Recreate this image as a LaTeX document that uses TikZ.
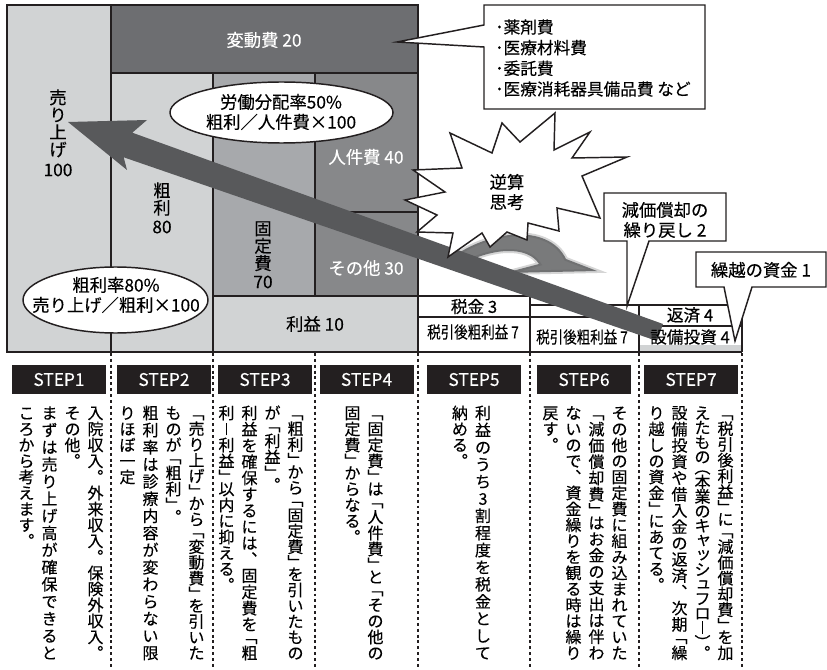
\documentclass[tikz,border=0pt]{standalone}
\usepackage{fontspec}
\setmainfont{Noto Sans CJK JP}[FakeBold=0.25]
\usepackage{graphicx}
\usetikzlibrary{shapes.geometric}

\definecolor{ink}{HTML}{231F20}
\definecolor{lite}{HTML}{D1D3D4}
\definecolor{midg}{HTML}{A7A9AC}
\definecolor{darkg}{HTML}{87888A}
\definecolor{hendo}{HTML}{6D6E71}
\definecolor{arrowg}{HTML}{58595B}

\newdimen\vcolw \vcolw=17.25pt
\makeatletter
\def\vt@LB{「}\def\vt@RB{」}\def\vt@LP{（}\def\vt@RP{）}
\def\vt@MARU{。}\def\vt@TEN{、}\def\vt@CHO{ー}
\def\vt@SA{ャ}\def\vt@STU{ッ}\def\vt@SYU{ュ}
\newif\ifvt@first
\def\vt@strut{\vrule height .88em depth .12em width 0pt}
\def\vt@box#1{\hbox to 1em{\vt@strut\hss#1\hss}}
\def\vt@small#1{\vt@box{\kern.12em\raisebox{.1em}{#1}}}
\def\vt@one#1{%
  \def\vt@x{#1}%
  \ifx\vt@x\vt@LB \ifvt@first\else\kern-.25em\fi\vt@box{﹁}%
  \else\ifx\vt@x\vt@LP \ifvt@first\else\kern-.25em\fi\vt@box{︵}%
  \else\ifx\vt@x\vt@RB \vt@box{﹂}\kern-.25em
  \else\ifx\vt@x\vt@RP \vt@box{︶}\kern-.25em
  \else\ifx\vt@x\vt@MARU \vt@box{︒}%
  \else\ifx\vt@x\vt@TEN \vt@box{︑}%
  \else\ifx\vt@x\vt@CHO \vt@box{\vrule width .07em height .78em depth .02em}%
  \else\ifx\vt@x\vt@SA \vt@small{#1}%
  \else\ifx\vt@x\vt@STU \vt@small{#1}%
  \else\ifx\vt@x\vt@SYU \vt@small{#1}%
  \else \vt@box{#1}%
  \fi\fi\fi\fi\fi\fi\fi\fi\fi\fi
  \vt@firstfalse}
\def\vt@list#1{\vt@firsttrue\@tfor\vt@c:=#1\do{\expandafter\vt@one\expandafter{\vt@c}}}
\newcommand\vcolN[1]{\hbox to\vcolw{\hss\vtop{\baselineskip=1em\lineskip=0pt\lineskiplimit=-\maxdimen\vt@list{#1}}\hss}}
\newcommand\vcolJ[1]{\hbox to\vcolw{\hss\vtop to 15.88em{\baselineskip=1em plus 1fil minus .2em\lineskip=0pt\lineskiplimit=-\maxdimen\vt@list{#1}}\hss}}
\makeatother

\begin{document}
\begin{tikzpicture}[x=0.75pt,y=-0.75pt,
  frame/.style={draw=ink,line width=1.5pt},
  inner/.style={draw=ink,line width=1.1pt},
  dotln/.style={draw=ink,line width=1.6pt,dash pattern=on 2.2pt off 2.2pt},
  lbl/.style={inner sep=0pt,font=\fontsize{13}{15}\selectfont,align=center},
  wlbl/.style={lbl,text=white},
  tlbl/.style={inner sep=0pt,font=\fontsize{12.5}{14}\selectfont},
  stepbox/.style={fill=ink,text=white,minimum width=70.5pt,minimum height=21.75pt,inner sep=0pt,font=\fontsize{13}{15}\selectfont},
  vtxt/.style={inner sep=0pt,anchor=base,font=\fontsize{12}{12}\selectfont},
  vlbl/.style={inner sep=0pt,anchor=base,font=\fontsize{13}{13}\selectfont},
  oval/.style={ellipse,draw=ink,fill=white,line width=1.1pt,inner sep=0pt},
  bubble/.style={draw=ink,fill=white,line width=1.1pt,line join=miter},
  shadowarrow/.style={fill=arrowg,fill opacity=0.8,draw=arrowg,draw opacity=0.25,line width=3pt},
]
\fill[white] (0,0) rectangle (827,670);
\useasboundingbox (0,0) rectangle (827,670);

% block fills
\fill[lite] (7,5) rectangle (111,352);
\fill[hendo] (111,5) rectangle (418,73);
\fill[lite] (111,73) rectangle (213,352);
\fill[midg] (213,73) rectangle (315,296);
\fill[darkg] (315,73) rectangle (418,296);
\fill[lite] (213,296) rectangle (418,352);
\fill[lite] (639,345) rectangle (742,352);

% block lines
\draw[inner] (111,5) -- (111,352);
\draw[inner] (111,73) -- (418,73);
\draw[inner] (213,73) -- (213,352);
\draw[inner] (315,73) -- (315,296);
\draw[inner] (213,296) -- (418,296);
\draw[inner] (315,212) -- (418,212);
\draw[frame] (7,5) rectangle (418,352);

% tables
\draw[inner] (418,296) -- (530,296) -- (530,352);
\draw[inner] (418,317) -- (639,317);
\draw[inner] (530,305) -- (742,305) -- (742,352);
\draw[inner] (639,305) -- (639,352);
\draw[inner] (639,326) -- (742,326);
\draw[frame] (418,352) -- (742,352);

% dotted separators
\foreach \xx in {111,213,315,418,530,639,742}
  \draw[dotln] (\xx,353) -- (\xx,670);

% shadow curved arrow
\path[shadowarrow] (446,262) .. controls (485,230) and (548,222) .. (566,259) -- (597,271) -- (505,273) -- (539,264) .. controls (528,246) and (492,246) .. (455,268) -- cycle;

% big arrow
\fill[arrowg] (68,122) -- (147,120) -- (132.3,132.7) -- (663,324) -- (657,341) -- (123.7,157.3) -- (127,170) -- cycle;

% ellipses
\node[oval,minimum width=167.25pt,minimum height=45.75pt] (rodo) at (281.5,112.5) {};
\node[oval,minimum width=138.75pt,minimum height=49.5pt] (arari) at (115.5,300) {};
\node[lbl] (rodotxt) at (281,112) {労働分配率50\%\\粗利／人件費×100};
\node[lbl] (araritxt) at (116,295) {粗利率80\%\\売り上げ／粗利×100};

% starburst
\draw[bubble] (555,113) -- (554,150) -- (590,132) -- (572,158) -- (627,157) -- (582,176)
  -- (600,218) -- (557,208) -- (559,231) -- (528,223) -- (527,240) -- (507,232)
  -- (490,247) -- (482,233) -- (448,257) -- (453,233) -- (417,232) -- (437,215)
  -- (405,200) -- (445,192) -- (413,170) -- (462,168) -- (450,133) -- (492,153)
  -- (502,123) -- (520,142) -- cycle;
\node[lbl] (gyaku) at (507,192) {逆算\\思考};

% callouts
\draw[bubble] (484,5) -- (705,5) -- (705,109) -- (484,109) -- (484,47) -- (397,42) -- (484,25) -- cycle;
\node[inner sep=0pt,anchor=west,align=left,font=\fontsize{12.5}{15.5}\selectfont] (list) at (495,58)
  {･薬剤費\\･医療材料費\\･委託費\\･医療消耗器具備品費 など};
\draw[bubble] (604,193) -- (726,193) -- (726,241) -- (649,241) -- (627,306) -- (627,241) -- (604,241) -- cycle;
\node[lbl] (genka) at (665,220) {減価償却の\\繰り戻し 2};
\draw[bubble] (696,252) -- (826,252) -- (826,287) -- (752,287) -- (735,341) -- (724,287) -- (696,287) -- cycle;
\node[lbl] (kurikoshi) at (761,270) {繰越の資金 1};

% block labels
\node[wlbl] (hendotxt) at (264,40) {変動費 20};
\node[wlbl] (jinken) at (366,157) {人件費 40};
\node[wlbl] (sonota) at (366,268) {その他 30};
\node[lbl] (rieki) at (315,324) {利益 10};
\node[vlbl] (uri) at (58,104) {\vcolN{売り上げ}};
\node[lbl] (uri100) at (58,170) {100};
\node[vlbl] (ara) at (162,197) {\vcolN{粗利}};
\node[lbl] (ara80) at (162,227) {80};
\node[vlbl] (kotei) at (263,235) {\vcolN{固定費}};
\node[lbl] (kotei70) at (263,282) {70};

% table labels
\node[tlbl] (zei) at (474,306.5) {税金 3};
\node[tlbl] (zeigo5) at (473,332) {\scalebox{0.81}[1]{税引後粗利益 7}};
\node[tlbl] (zeigo6) at (582,337) {\scalebox{0.81}[1]{税引後粗利益 7}};
\node[tlbl] (hensai) at (690,315) {返済 4};
\node[tlbl] (setsubi) at (690,337) {設備投資 4};

% step headers
\node[stepbox] (h1) at (59,379.5) {STEP1};
\node[stepbox] (h2) at (164,379.5) {STEP2};
\node[stepbox] (h3) at (265,379.5) {STEP3};
\node[stepbox] (h4) at (366.5,379.5) {STEP4};
\node[stepbox] (h5) at (474,379.5) {STEP5};
\node[stepbox] (h6) at (584,379.5) {STEP6};
\node[stepbox] (h7) at (691,379.5) {STEP7};

% vertical texts
\node[vtxt] (t1) at (61,419) {\hbox{\vcolN{ころから考えます。}\vcolJ{まずは売り上げ高が確保できると}\vcolN{その他。}\vcolJ{入院収入。外来収入。保険外収入。}}};
\node[vtxt] (t2) at (162,419) {\hbox{\vcolN{りほぼ一定}\vcolJ{粗利率は診療内容が変わらない限}\vcolN{ものが「粗利」。}\vcolJ{「売り上げ」から「変動費」を引いた}}};
\node[vtxt] (t3) at (261,419) {\hbox{\vcolN{利ー利益」以内に抑える。}\vcolJ{利益を確保するには、固定費を「粗}\vcolN{が「利益」。}\vcolJ{「粗利」から「固定費」を引いたもの}}};
\node[vtxt] (t4) at (364,419) {\hbox{\vcolN{固定費」からなる。}\vcolJ{「固定費」は「人件費」と「その他の}}};
\node[vtxt] (t5) at (471.5,419) {\hbox{\vcolN{納める。}\vcolJ{利益のうち3割程度を税金として}}};
\node[vtxt] (t6) at (585,419) {\hbox{\vcolN{戻す。}\vcolJ{ないので、資金繰りを観る時は繰り}\vcolJ{「減価償却費」はお金の支出は伴わ}\vcolJ{その他の固定費に組み込まれていた}}};
\node[vtxt] (t7) at (691,419) {\hbox{\vcolN{り越しの資金」にあてる。}\vcolJ{設備投資や借入金の返済、次期「繰}\vcolJ{えたもの（本業のキャッシュフロー）。}\vcolJ{「税引後利益」に「減価償却費」を加}}};
\end{tikzpicture}
\end{document}
